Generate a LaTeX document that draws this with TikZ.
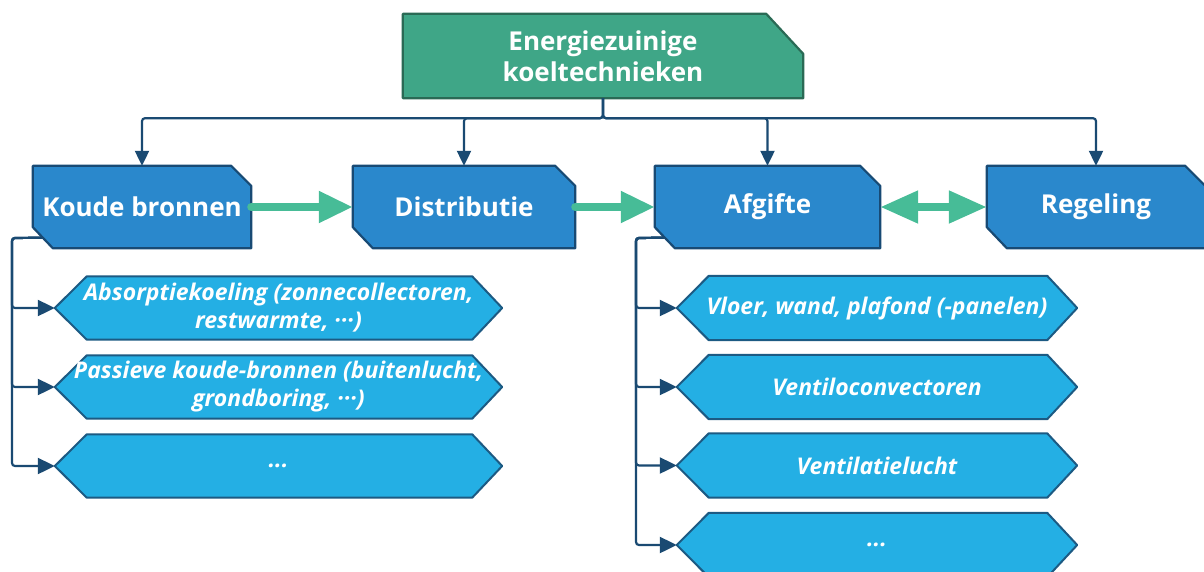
\documentclass[tikz,border=0pt]{standalone}
\usepackage{fontspec}
\setmainfont{Open Sans}
\usetikzlibrary{arrows.meta,backgrounds,calc}
\definecolor{greenfill}{HTML}{3FA687}
\definecolor{greenline}{HTML}{2A6A55}
\definecolor{bluefill}{HTML}{2A88CC}
\definecolor{blueline}{HTML}{184A74}
\definecolor{childfill}{HTML}{24AFE4}
\definecolor{childline}{HTML}{1C5A83}
\definecolor{connline}{HTML}{1A4A72}
\definecolor{flowgreen}{HTML}{47BC97}
\tikzset{
  boxnode/.style={draw=none, inner sep=0pt, text=white, align=center,
    font=\bfseries\fontsize{26}{31}\selectfont},
  childnode/.style={draw=none, inner sep=0pt, text=white, align=center,
    font=\bfseries\itshape\fontsize{23}{28}\selectfont},
  greenshape/.style={draw=greenline, fill=greenfill, line width=2.2pt, line join=round},
  blueshape/.style={draw=blueline, fill=bluefill, line width=2.2pt, line join=round},
  childshape/.style={draw=childline, fill=childfill, line width=2pt, line join=round},
  conn/.style={draw=connline, line width=2.2pt, rounded corners=3pt,
    -{Triangle[length=17pt,width=16pt]}},
  topconn/.style={draw=connline, line width=2.2pt, rounded corners=3pt,
    -{Triangle[length=15pt,width=14pt]}},
  flow/.style={draw=flowgreen, line width=8pt, line cap=round,
    -{Triangle[length=34pt,width=30pt]}},
  flowboth/.style={draw=flowgreen, line width=8pt,
    {Triangle[length=38pt,width=31pt]}-{Triangle[length=38pt,width=31pt]}},
}
\newcommand{\chamfbox}[1]{\draw[blueshape] (#1.north west) -- ([xshift=-20pt]#1.north east) -- ([yshift=-20pt]#1.north east) -- (#1.south east) -- ([xshift=20pt]#1.south west) -- ([yshift=21pt]#1.south west) -- cycle;}
\newcommand{\hexbox}[1]{\draw[childshape] (#1.west) -- ([xshift=32pt]#1.north west) -- ([xshift=-30pt]#1.north east) -- (#1.east) -- ([xshift=-30pt]#1.south east) -- ([xshift=32pt]#1.south west) -- cycle;}
\begin{document}
\begin{tikzpicture}[x=1pt,y=1pt]
\useasboundingbox (0,0) rectangle (1204,-571);
% top node
\node[boxnode, minimum width=400pt, minimum height=84pt] (top) at (603,-56) {Energiezuinige\\koeltechnieken};
% main nodes
\node[boxnode, minimum width=218pt, minimum height=82pt] (kb) at (142,-207) {Koude bronnen};
\node[boxnode, minimum width=222pt, minimum height=82pt] (dist) at (464,-207) {Distributie};
\node[boxnode, minimum width=225pt, minimum height=82pt] (afg) at (767.5,-207) {Afgifte};
\node[boxnode, minimum width=218pt, minimum height=82pt] (reg) at (1096,-207) {Regeling};
% left children
\node[childnode, minimum width=447pt, minimum height=63pt] (l1) at (278.5,-308) {Absorptiekoeling (zonnecollectoren,\\restwarmte, \textperiodcentered\textperiodcentered\textperiodcentered)};
\node[childnode, minimum width=447pt, minimum height=63pt] (l2) at (278.5,-387) {Passieve koude-bronnen (buitenlucht,\\grondboring, \textperiodcentered\textperiodcentered\textperiodcentered)};
\node[childnode, minimum width=447pt, minimum height=63pt] (l3) at (278.5,-466) {...};
% right children
\node[childnode, minimum width=400pt, minimum height=64pt] (r1) at (877,-308) {Vloer, wand, plafond (-panelen)};
\node[childnode, minimum width=400pt, minimum height=64pt] (r2) at (877,-387) {Ventiloconvectoren};
\node[childnode, minimum width=400pt, minimum height=64pt] (r3) at (877,-465.5) {Ventilatielucht};
\node[childnode, minimum width=400pt, minimum height=64pt] (r4) at (877,-545) {...};
\begin{pgfonlayer}{background}
\draw[greenshape] (top.north west) -- ([xshift=-37pt]top.north east) -- ([yshift=-40pt]top.north east) -- (top.south east) -- (top.south west) -- cycle;
\chamfbox{kb}
\chamfbox{dist}
\chamfbox{afg}
\chamfbox{reg}
\hexbox{l1}
\hexbox{l2}
\hexbox{l3}
\hexbox{r1}
\hexbox{r2}
\hexbox{r3}
\hexbox{r4}
\end{pgfonlayer}
% top connectors
\draw[topconn] (top.south) -- ++(0,-20) -| (kb.north);
\draw[topconn] (top.south) -- ++(0,-20) -| (dist.north);
\draw[topconn] (top.south) -- ++(0,-20) -| (afg.north);
\draw[topconn] (top.south) -- ++(0,-20) -| (reg.north);
% flow arrows
\draw[flow] (kb.east) -- (dist.west);
\draw[flow] (dist.east) -- (afg.west);
\draw[flowboth] (afg.east) -- (reg.west);
% child connectors
\coordinate (kbm) at ([xshift=10pt,yshift=10.5pt]kb.south west);
\coordinate (ltrunk) at (12,-238);
\draw[conn] (kbm) -- (ltrunk) |- (l1.west);
\draw[conn] (kbm) -- (ltrunk) |- (l2.west);
\draw[conn] (kbm) -- (ltrunk) |- (l3.west);
\coordinate (afm) at ([xshift=10pt,yshift=10.5pt]afg.south west);
\coordinate (rtrunk) at (636,-238);
\draw[conn] (afm) -- (rtrunk) |- (r1.west);
\draw[conn] (afm) -- (rtrunk) |- (r2.west);
\draw[conn] (afm) -- (rtrunk) |- (r3.west);
\draw[conn] (afm) -- (rtrunk) |- (r4.west);
\end{tikzpicture}
\end{document}
